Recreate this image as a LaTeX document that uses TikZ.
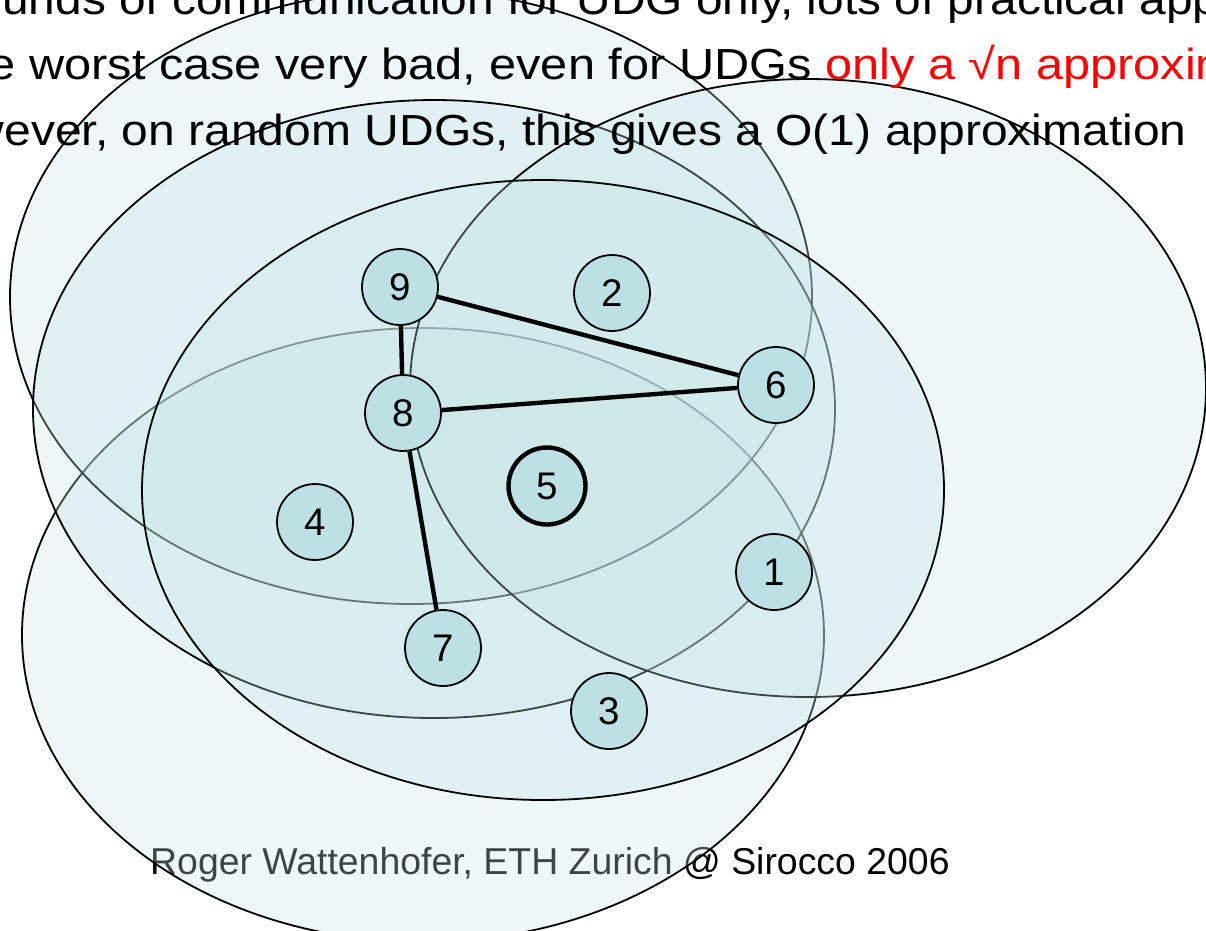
\documentclass[tikz,border=0pt]{standalone}
\usepackage{fontspec}
\setmainfont{Liberation Sans}
\newfontfamily\headfontA[FakeStretch=1.10]{Liberation Sans}
\newfontfamily\headfontB[FakeStretch=1.12]{Liberation Sans}
\newfontfamily\headfontC[FakeStretch=1.104]{Liberation Sans}
\definecolor{diskfill}{RGB}{198,229,232}
\definecolor{nodefill}{RGB}{188,224,227}
\definecolor{udgred}{RGB}{255,0,0}

\begin{document}
\begin{tikzpicture}[x=1pt,y=-1pt,
  disk/.style={draw=black,line width=1.8pt,fill=diskfill,fill opacity=0.3},
  vertex/.style={circle,draw=black,line width=1.8pt,fill=nodefill,minimum size=76pt,
    inner sep=0pt,font=\fontsize{38.5}{38.5}\selectfont},
  leader/.style={vertex,line width=4.4pt,minimum size=77pt},
  link/.style={line width=4.4pt},
  headline/.style={inner sep=0pt},
  hsize/.style={font=#1\fontsize{43.5}{43.5}\selectfont},
]
\useasboundingbox (0,0) rectangle (1206,930);
\clip (0,0) rectangle (1206,930);
\fill[white] (0,0) rectangle (1206,930);

% footer, lying under the disks
\node[anchor=base west,inner sep=0pt,font=\fontsize{37.4}{37.4}\selectfont] (credit)
  at (150,874) {Roger Wattenhofer, ETH Zurich @ Sirocco 2006};

% transmission disks, each one shading the outlines drawn before it
\filldraw[disk] (423,635) ellipse [x radius=401pt, y radius=307pt];
\filldraw[disk] (411,297) ellipse [x radius=401pt, y radius=307pt];
\filldraw[disk] (434,409) ellipse [x radius=401pt, y radius=309pt];
\filldraw[disk] (808,388) ellipse [x radius=398pt, y radius=309pt];
\filldraw[disk] (543,490) ellipse [x radius=401pt, y radius=310pt];

% vertices
\node[vertex] (n9) at (400,287) {9};
\node[vertex] (n2) at (612,293) {2};
\node[vertex] (n6) at (776,385) {6};
\node[vertex] (n8) at (403,413) {8};
\node[leader] (n5) at (547,486) {5};
\node[vertex] (n4) at (315,522) {4};
\node[vertex] (n1) at (774,572) {1};
\node[vertex] (n7) at (443,648) {7};
\node[vertex] (n3) at (609,711) {3};

% backbone edges, ending at the vertex borders
\draw[link] (n9) -- (n6);
\draw[link] (n9) -- (n8);
\draw[link] (n8) -- (n6);
\draw[link] (n8) -- (n7);

% slide text
\node[headline,hsize=\headfontA,anchor=base west] (l1) at (2,14)
  {unds of communication for UDG only, lots of practical app};
\node[headline,hsize=\headfontB,anchor=base east] (l2) at (812,79)
  {e worst case very bad, even for UDGs};
\node[headline,hsize=\headfontB,anchor=base west,text=udgred] (l2r) at (825,79)
  {only a √n approxim};
\node[headline,hsize=\headfontC,anchor=base east] (l3) at (1187,145)
  {wever, on random UDGs, this gives a O(1) approximation};
\end{tikzpicture}
\end{document}
